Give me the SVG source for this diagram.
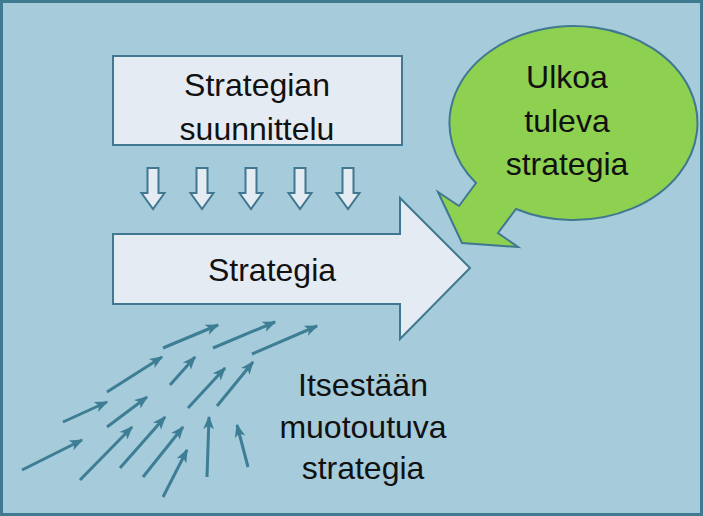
<svg xmlns="http://www.w3.org/2000/svg" width="703" height="516" viewBox="0 0 703 516">
<style>
.t{font-family:"Liberation Sans",Arial,sans-serif;font-size:32px;fill:#111;text-anchor:middle}
.light{fill:#e5ebf2;stroke:#3f7890;stroke-width:2}
.sm{stroke:#3d7e95;stroke-width:3;fill:none;marker-end:url(#ah)}
</style>
<defs>
<marker id="ah" viewBox="0 0 10 10" refX="9" refY="5" markerWidth="4.5" markerHeight="4.5" orient="auto" markerUnits="strokeWidth">
<path d="M0,1 L10,5 L0,9 L2.5,5 z" fill="#3d7e95"/>
</marker>
<path id="da" d="M-5.5,0 H5.5 V25 H11.5 L0,41 L-11.5,25 H-5.5 Z"/>
</defs>
<rect x="1.5" y="1.5" width="700" height="513" fill="#a6cbda" stroke="#3f7a91" stroke-width="3"/>
<g id="plan">
<rect class="light" x="113" y="56" width="289" height="89"/>
<text class="t" x="257" y="96">Strategian</text>
<text class="t" x="257" y="140">suunnittelu</text>
</g>
<g id="downarrows" class="light">
<use href="#da" x="153" y="168"/>
<use href="#da" x="202" y="168"/>
<use href="#da" x="251" y="168"/>
<use href="#da" x="300" y="168"/>
<use href="#da" x="348" y="168"/>
</g>
<g id="strategia">
<path class="light" d="M113,234 H400 V198 L470,268 L400,339 V304 H113 Z"/>
<text class="t" x="272" y="281">Strategia</text>
</g>
<g id="ulkoa">
<path d="M476,183 L459,206 L438,192 L462,243 L518,247 L498,233 L516,209 A124,97 0 1 0 476,183 Z" fill="#8ed050" stroke="#3f7890" stroke-width="2"/>
<text class="t" x="567" y="88">Ulkoa</text>
<text class="t" x="567" y="132">tuleva</text>
<text class="t" x="567" y="175">strategia</text>
</g>
<g id="emergent">
<text class="t" x="363" y="396">Itsestään</text>
<text class="t" x="363" y="438">muotoutuva</text>
<text class="t" x="363" y="479">strategia</text>
</g>
<g id="connectors">
<line class="sm" x1="22" y1="470" x2="82" y2="440"/>
<line class="sm" x1="63" y1="422" x2="107" y2="402"/>
<line class="sm" x1="107" y1="392" x2="162" y2="357"/>
<line class="sm" x1="163" y1="348" x2="218" y2="325"/>
<line class="sm" x1="213" y1="348" x2="275" y2="322"/>
<line class="sm" x1="252" y1="354" x2="317" y2="326"/>
<line class="sm" x1="107" y1="427" x2="147" y2="397"/>
<line class="sm" x1="170" y1="385" x2="195" y2="357"/>
<line class="sm" x1="80" y1="480" x2="132" y2="427"/>
<line class="sm" x1="120" y1="468" x2="165" y2="417"/>
<line class="sm" x1="188" y1="408" x2="225" y2="368"/>
<line class="sm" x1="217" y1="406" x2="253" y2="362"/>
<line class="sm" x1="143" y1="477" x2="183" y2="427"/>
<line class="sm" x1="163" y1="497" x2="187" y2="450"/>
<line class="sm" x1="207" y1="477" x2="209" y2="417"/>
<line class="sm" x1="248" y1="467" x2="237" y2="425"/>
</g>
</svg>
